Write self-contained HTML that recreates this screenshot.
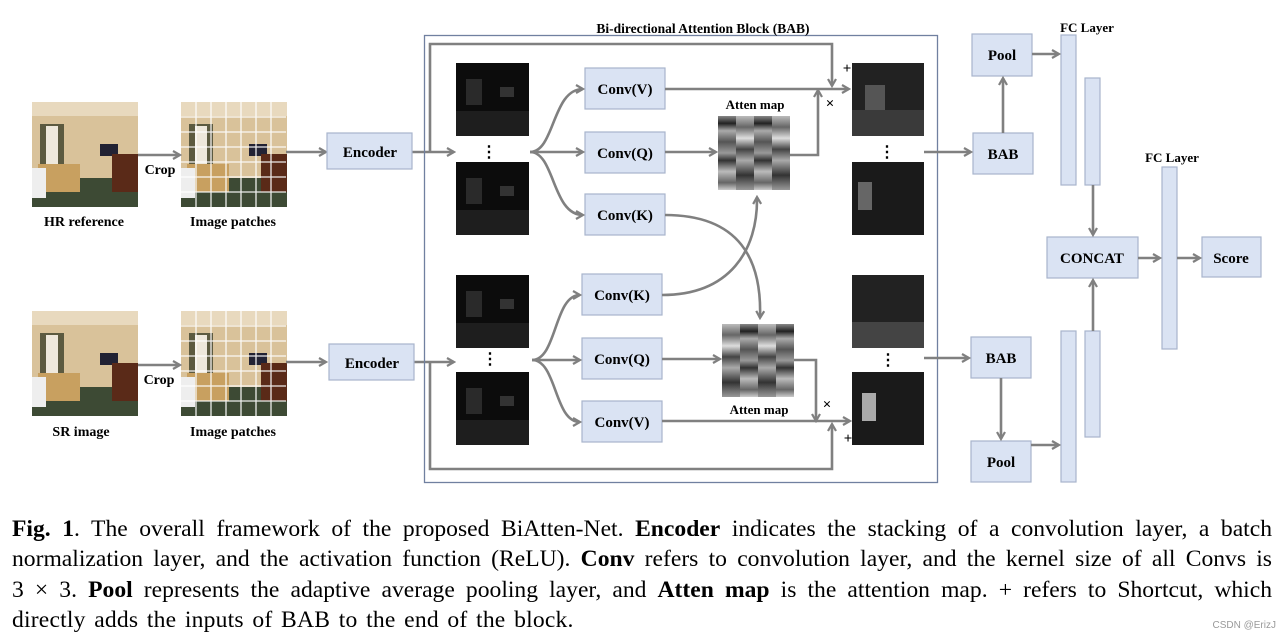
<!DOCTYPE html>
<html><head><meta charset="utf-8"><style>
body{margin:0;background:#fff;width:1284px;height:641px;overflow:hidden}
svg{position:absolute;left:0;top:0}
.cap{position:absolute;left:12px;top:514px;width:1260px;font-family:"Liberation Serif",serif;font-size:23.6px;line-height:30.3px;color:#000}
.cap div{text-align:justify;text-align-last:justify;white-space:nowrap}
.cap div.l{text-align-last:left;word-spacing:2.5px;letter-spacing:0.2px}
</style></head><body>
<svg width="1284" height="641" viewBox="0 0 1284 641" font-family="Liberation Serif, serif" font-weight="bold">
<defs>
<marker id="a" markerWidth="10" markerHeight="10" refX="8" refY="5" orient="auto" markerUnits="userSpaceOnUse"><path d="M1,1 L8,5 L1,9" fill="none" stroke="#808080" stroke-width="2.2"/></marker>
<g id="room">
<rect width="106" height="105" fill="#d9c29a"/>
<rect width="106" height="14" fill="#e8d9be"/>
<rect x="8" y="22" width="24" height="48" fill="#5c5a40"/>
<rect x="14" y="24" width="12" height="44" fill="#eee8dc"/>
<rect x="68" y="42" width="18" height="12" fill="#223"/>
<rect x="0" y="76" width="106" height="29" fill="#3d4a34"/>
<rect x="6" y="62" width="42" height="28" fill="#c8a060"/>
<rect x="80" y="52" width="26" height="38" fill="#5a2a18"/>
<rect x="0" y="66" width="14" height="30" fill="#eee"/>
</g>
<g id="feat">
<rect width="73" height="73" fill="#0c0c0c"/>
<rect x="10" y="16" width="16" height="26" fill="#2a2a2a"/>
<rect x="0" y="48" width="73" height="25" fill="#1e1e1e"/>
<rect x="44" y="24" width="14" height="10" fill="#333"/>
</g>
</defs>

<use href="#room" x="32" y="102"/>
<use href="#room" x="181" y="102"/>
<use href="#room" x="32" y="311"/>
<use href="#room" x="181" y="311"/>
<g stroke="#fff" stroke-width="1.3" opacity="0.9">
<path d="M196 102V207M211 102V207M226 102V207M241 102V207M256 102V207M271 102V207M181 117H286M181 132H286M181 147H286M181 162H286M181 177H286M181 192H286"/>
<path d="M196 311V416M211 311V416M226 311V416M241 311V416M256 311V416M271 311V416M181 326H286M181 341H286M181 356H286M181 371H286M181 386H286M181 401H286"/>
</g>
<g font-size="14" text-anchor="middle">
<text x="84" y="226">HR reference</text>
<text x="233" y="226">Image patches</text>
<text x="81" y="436">SR image</text>
<text x="233" y="436">Image patches</text>
<text x="160" y="174">Crop</text>
<text x="159" y="384">Crop</text>
</g>

<g stroke="#808080" stroke-width="2.6" fill="none" marker-end="url(#a)">
<path d="M138 155H180"/><path d="M138 365H180"/>
<path d="M286 152H326"/><path d="M286 362H326"/>
<path d="M412 152H454"/><path d="M412 362H454"/>
</g>

<rect x="424.5" y="35.5" width="513" height="447" fill="none" stroke="#7080a0" stroke-width="1.3"/>
<text x="703" y="33" font-size="13.5" text-anchor="middle">Bi-directional Attention Block (BAB)</text>

<use href="#feat" x="456" y="63"/><use href="#feat" x="456" y="162"/>
<use href="#feat" x="456" y="275"/><use href="#feat" x="456" y="372"/>
<g fill="#1a1a1a"><rect x="852" y="63" width="72" height="73" fill="#222"/><rect x="852" y="162" width="72" height="73"/><rect x="852" y="275" width="72" height="73" fill="#222"/><rect x="852" y="372" width="72" height="73"/></g>
<g fill="#555"><rect x="865" y="85" width="20" height="30"/><rect x="852" y="110" width="72" height="26" fill="#3a3a3a"/><rect x="858" y="182" width="14" height="28" fill="#666"/><rect x="852" y="322" width="72" height="26" fill="#444"/><rect x="862" y="393" width="14" height="28" fill="#aaa"/></g>
<g font-size="16" text-anchor="middle" font-weight="bold">
<text x="489" y="157">⋮</text><text x="490" y="364">⋮</text><text x="887" y="157">⋮</text><text x="888" y="365">⋮</text>
</g>

<g fill="#dae3f3" stroke="#a8b4cc" stroke-width="1.2">
<rect x="585" y="68" width="80" height="41"/><rect x="585" y="132" width="80" height="41"/><rect x="585" y="194" width="80" height="41"/>
<rect x="582" y="274" width="80" height="41"/><rect x="582" y="338" width="80" height="41"/><rect x="582" y="401" width="80" height="41"/>
<rect x="327" y="133" width="85" height="36"/><rect x="329" y="344" width="85" height="36"/>
<rect x="972" y="34" width="60" height="42"/><rect x="973" y="133" width="60" height="41"/>
<rect x="971" y="337" width="60" height="41"/><rect x="971" y="441" width="60" height="41"/>
<rect x="1047" y="237" width="91" height="41"/><rect x="1202" y="237" width="59" height="40"/>
<rect x="1061" y="35" width="15" height="150"/><rect x="1085" y="78" width="15" height="107"/>
<rect x="1061" y="331" width="15" height="151"/><rect x="1085" y="331" width="15" height="106"/>
<rect x="1162" y="167" width="15" height="182"/>
</g>
<g font-size="15" text-anchor="middle">
<text x="625" y="94">Conv(V)</text><text x="625" y="158">Conv(Q)</text><text x="625" y="220">Conv(K)</text>
<text x="622" y="300">Conv(K)</text><text x="622" y="364">Conv(Q)</text><text x="622" y="427">Conv(V)</text>
<text x="370" y="157">Encoder</text><text x="372" y="368">Encoder</text>
<text x="1002" y="60">Pool</text><text x="1003" y="159">BAB</text><text x="1001" y="363">BAB</text><text x="1001" y="467">Pool</text>
<text x="1092" y="263">CONCAT</text><text x="1231" y="263">Score</text>
</g>
<g font-size="13" text-anchor="middle">
<text x="755" y="109">Atten map</text><text x="759" y="414">Atten map</text>
<text x="1087" y="32">FC Layer</text><text x="1172" y="162">FC Layer</text>
</g>
<g font-size="15" text-anchor="middle">
<text x="847" y="73">+</text><text x="830" y="108">×</text><text x="827" y="409">×</text><text x="848" y="443">+</text>
</g>

<defs><linearGradient id="s" x1="0" y1="0" x2="0" y2="1">
<stop offset="0" stop-color="#888"/><stop offset=".1" stop-color="#222"/><stop offset=".2" stop-color="#aaa"/><stop offset=".35" stop-color="#555"/><stop offset=".5" stop-color="#999"/><stop offset=".6" stop-color="#333"/><stop offset=".75" stop-color="#bbb"/><stop offset=".9" stop-color="#666"/><stop offset="1" stop-color="#ccc"/></linearGradient>
<linearGradient id="t" x1="0" y1="0" x2="0" y2="1">
<stop offset="0" stop-color="#bbb"/><stop offset=".15" stop-color="#666"/><stop offset=".3" stop-color="#ddd"/><stop offset=".45" stop-color="#444"/><stop offset=".6" stop-color="#aaa"/><stop offset=".8" stop-color="#333"/><stop offset="1" stop-color="#999"/></linearGradient></defs>
<rect x="718" y="116" width="18" height="74" fill="url(#s)"/><rect x="736" y="116" width="18" height="74" fill="url(#t)"/><rect x="754" y="116" width="18" height="74" fill="url(#s)"/><rect x="772" y="116" width="18" height="74" fill="url(#t)"/>
<rect x="722" y="324" width="18" height="73" fill="url(#t)"/><rect x="740" y="324" width="18" height="73" fill="url(#s)"/><rect x="758" y="324" width="18" height="73" fill="url(#t)"/><rect x="776" y="324" width="18" height="73" fill="url(#s)"/>

<g stroke="#808080" stroke-width="2.6" fill="none">
<path d="M530 152C555 152 552 89 583 89" marker-end="url(#a)"/>
<path d="M530 152H583" marker-end="url(#a)"/>
<path d="M530 152C555 152 552 215 583 215" marker-end="url(#a)"/>
<path d="M532 360C557 360 554 295 580 295" marker-end="url(#a)"/>
<path d="M532 360H580" marker-end="url(#a)"/>
<path d="M532 360C557 360 554 422 580 422" marker-end="url(#a)"/>
<path d="M665 89H849" marker-end="url(#a)"/>
<path d="M665 152H716" marker-end="url(#a)"/>
<path d="M790 155H818V90" marker-end="url(#a)"/>
<path d="M665 215C740 215 762 260 760 318" marker-end="url(#a)"/>
<path d="M662 295C730 295 758 250 757 197" marker-end="url(#a)"/>
<path d="M662 359H720" marker-end="url(#a)"/>
<path d="M794 360H816V421" marker-end="url(#a)"/>
<path d="M662 421H850" marker-end="url(#a)"/>
<path d="M430 152V44H832V86" marker-end="url(#a)"/>
<path d="M430 362V469H832V424" marker-end="url(#a)"/>
<path d="M924 152H971" marker-end="url(#a)"/>
<path d="M924 358H969" marker-end="url(#a)"/>
<path d="M1003 133V78" marker-end="url(#a)"/>
<path d="M1032 54H1059" marker-end="url(#a)"/>
<path d="M1001 378V439" marker-end="url(#a)"/>
<path d="M1031 445H1059" marker-end="url(#a)"/>
<path d="M1093 185V235" marker-end="url(#a)"/>
<path d="M1093 331V280" marker-end="url(#a)"/>
<path d="M1138 258H1160" marker-end="url(#a)"/>
<path d="M1177 258H1200" marker-end="url(#a)"/>
</g>
</svg>
<div class="cap">
<div><b>Fig. 1</b>. The overall framework of the proposed BiAtten-Net. <b>Encoder</b> indicates the stacking of a convolution layer, a batch</div>
<div>normalization layer, and the activation function (ReLU). <b>Conv</b> refers to convolution layer, and the kernel size of all Convs is</div>
<div>3 × 3. <b>Pool</b> represents the adaptive average pooling layer, and <b>Atten map</b> is the attention map. + refers to Shortcut, which</div>
<div class="l">directly adds the inputs of BAB to the end of the block.</div>
</div>
<div style="position:absolute;right:8px;top:620px;font:10px 'Liberation Sans',sans-serif;color:#999">CSDN @ErizJ</div>
</body></html>
